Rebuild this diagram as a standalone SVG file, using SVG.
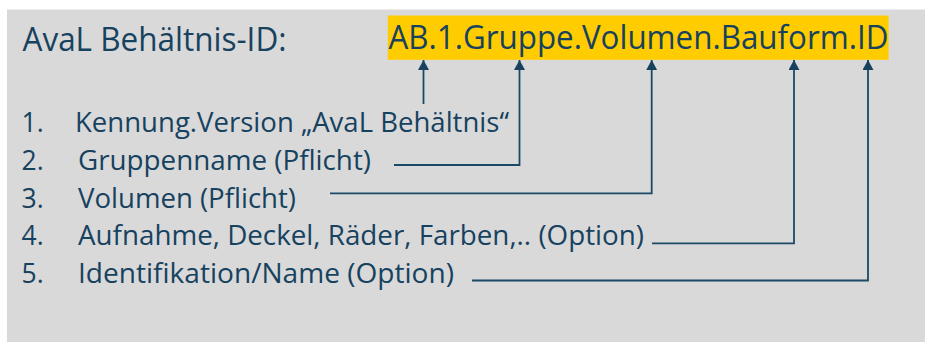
<svg xmlns="http://www.w3.org/2000/svg" width="925" height="342" viewBox="0 0 925 342">
  <style>
    .t { font-family: "Open Sans", "Noto Sans", "Liberation Sans", sans-serif; fill: #17425f; }
    .big { font-size: 32.8px; }
    .item { font-size: 26.5px; }
    .conn { fill: none; stroke: #1a4a66; stroke-width: 1.8; marker-end: url(#arr); }
  </style>
  <defs>
    <marker id="arr" markerUnits="userSpaceOnUse" markerWidth="11" markerHeight="11" refX="10" refY="5.5" orient="auto">
      <path d="M0,0 L10,5.5 L0,11 Z" fill="#17425f"/>
    </marker>
  </defs>
  <rect x="0" y="0" width="925" height="342" fill="#ffffff"/>
  <rect x="7" y="9.5" width="918" height="332.5" fill="#d9d9d9"/>

  <g id="title">
    <text class="t big" x="22.5" y="50.5" textLength="264" lengthAdjust="spacingAndGlyphs">AvaL Behältnis-ID:</text>
  </g>

  <g id="id-format">
    <rect x="387.8" y="15.5" width="500.8" height="44.3" fill="#ffcc00"/>
    <text class="t big" x="388.5" y="49.3" textLength="500" lengthAdjust="spacingAndGlyphs">AB.1.Gruppe.Volumen.Bauform.ID</text>
  </g>

  <g id="item1">
    <text class="t item" x="21.5" y="132.3">1.</text>
    <text class="t item" x="75" y="132.3" textLength="434" lengthAdjust="spacingAndGlyphs">Kennung.Version „AvaL Behältnis“</text>
  </g>
  <g id="item2">
    <text class="t item" x="21.5" y="170">2.</text>
    <text class="t item" x="78" y="170" textLength="293" lengthAdjust="spacingAndGlyphs">Gruppenname (Pflicht)</text>
  </g>
  <g id="item3">
    <text class="t item" x="21.5" y="207.7">3.</text>
    <text class="t item" x="78" y="207.7" textLength="218" lengthAdjust="spacingAndGlyphs">Volumen (Pflicht)</text>
  </g>
  <g id="item4">
    <text class="t item" x="21.5" y="245">4.</text>
    <text class="t item" x="78" y="245" textLength="566" lengthAdjust="spacingAndGlyphs">Aufnahme, Deckel, Räder, Farben,.. (Option)</text>
  </g>
  <g id="item5">
    <text class="t item" x="21.5" y="283">5.</text>
    <text class="t item" x="78" y="283" textLength="376" lengthAdjust="spacingAndGlyphs">Identifikation/Name (Option)</text>
  </g>

  <g id="connectors">
    <path class="conn" d="M423.5,104 V60"/>
    <path class="conn" d="M394,165 H519.5 V60"/>
    <path class="conn" d="M330,193.3 H651.7 V60"/>
    <path class="conn" d="M652,243.3 H794 V60"/>
    <path class="conn" d="M472,280.5 H868 V60"/>
  </g>
</svg>
